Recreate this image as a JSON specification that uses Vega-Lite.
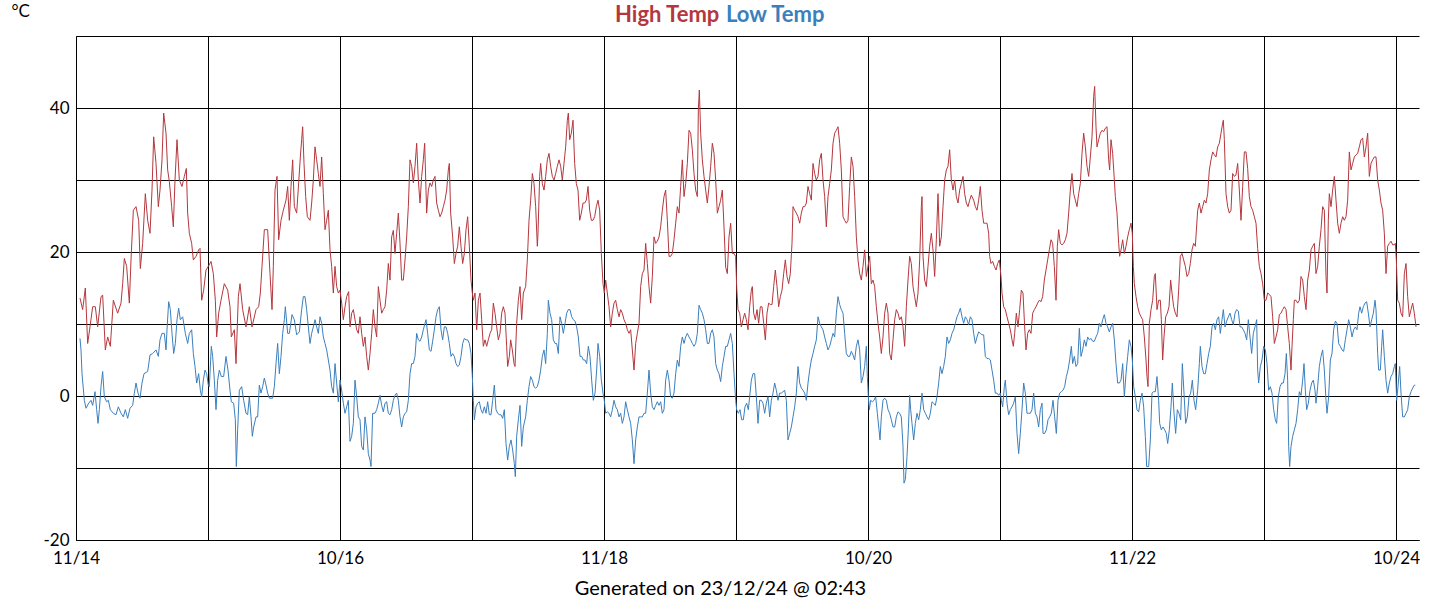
{
"$schema":"https://vega.github.io/schema/vega-lite/v6.json",
"width":1343,"height":504,
"autosize":"none",
"padding":{"left":76,"top":36,"right":21,"bottom":60},
"background":"white",
"config":{"view":{"stroke":null},"font":"Lato"},
"datasets":{
"high":[
{"t":12,"v":13.6},{"t":20,"v":12},{"t":28,"v":15},{"t":35,"v":7.3},{"t":42,"v":9.6},{"t":50,"v":12.4},{"t":58,"v":12.4},{"t":65,"v":9.6},{"t":75,"v":13.8},{"t":80,"v":14},{"t":88,"v":6.4},{"t":95,"v":8.2},{"t":103,"v":6.9},{"t":112,"v":13.3},{"t":125,"v":11.5},{"t":135,"v":12.9},{"t":140,"v":15.6},{"t":145,"v":19.1},{"t":152,"v":18},{"t":160,"v":12.9},{"t":165,"v":18.9},{"t":172,"v":25.8},{"t":180,"v":26.3},{"t":188,"v":24.4},{"t":193,"v":17.7},{"t":200,"v":21.2},{"t":208,"v":28.1},{"t":215,"v":24.4},{"t":222,"v":22.6},{"t":228,"v":28.6},{"t":233,"v":36},{"t":240,"v":32.3},{"t":247,"v":26.3},{"t":252,"v":28.6},{"t":258,"v":32.8},{"t":263,"v":39.3},{"t":270,"v":36.5},{"t":275,"v":31.4},{"t":280,"v":29.8},{"t":287,"v":26.3},{"t":292,"v":23.5},{"t":297,"v":30},{"t":303,"v":35.6},{"t":310,"v":30},{"t":318,"v":29.1},{"t":325,"v":30.5},{"t":331,"v":31.6},{"t":335,"v":25.4},{"t":340,"v":22.6},{"t":347,"v":21.2},{"t":352,"v":18.9},{"t":360,"v":19.4},{"t":368,"v":20.3},{"t":372,"v":20.5},{"t":377,"v":13.3},{"t":383,"v":14.7},{"t":390,"v":17.5},{"t":397,"v":18},{"t":405,"v":18.7},{"t":412,"v":17},{"t":418,"v":13.3},{"t":422,"v":8.2},{"t":428,"v":11.5},{"t":435,"v":13.3},{"t":445,"v":15.6},{"t":455,"v":14.7},{"t":462,"v":12.4},{"t":466,"v":8.2},{"t":475,"v":9.2},{"t":480,"v":4.5},{"t":487,"v":13.8},{"t":492,"v":15.6},{"t":500,"v":12},{"t":510,"v":9.6},{"t":520,"v":12.4},{"t":528,"v":9.6},{"t":540,"v":12},{"t":548,"v":12.4},{"t":553,"v":14.3},{"t":558,"v":18},{"t":565,"v":23.1},{"t":575,"v":23.1},{"t":582,"v":17},{"t":588,"v":12},{"t":592,"v":18},{"t":597,"v":28.6},{"t":603,"v":30.5},{"t":608,"v":21.7},{"t":615,"v":24.4},{"t":622,"v":25.8},{"t":630,"v":27.2},{"t":635,"v":29.1},{"t":640,"v":24.4},{"t":645,"v":29.1},{"t":650,"v":32.8},{"t":655,"v":26.3},{"t":662,"v":25.4},{"t":668,"v":29.6},{"t":673,"v":33.2},
{"t":677,"v":35.6},{"t":680,"v":37.4},{"t":684,"v":32.3},{"t":689,"v":27.7},{"t":694,"v":24.9},{"t":702,"v":24.4},{"t":707,"v":26.8},{"t":712,"v":30},{"t":717,"v":34.6},{"t":722,"v":32.8},{"t":727,"v":30.9},{"t":732,"v":29.1},{"t":737,"v":33.2},{"t":742,"v":28.1},{"t":747,"v":23.1},{"t":752,"v":24.4},{"t":757,"v":25.8},{"t":762,"v":20.3},{"t":767,"v":18},{"t":772,"v":14.3},{"t":777,"v":18},{"t":782,"v":15.2},{"t":787,"v":14.3},{"t":792,"v":14.7},{"t":797,"v":12.9},{"t":802,"v":10.6},{"t":807,"v":12.4},{"t":812,"v":13.8},{"t":818,"v":14.5},{"t":822,"v":9.6},{"t":827,"v":11.5},{"t":832,"v":12},{"t":837,"v":10.6},{"t":842,"v":9.2},{"t":847,"v":8.7},{"t":852,"v":11},{"t":857,"v":8.7},{"t":862,"v":6.9},{"t":867,"v":8.2},{"t":872,"v":5.5},{"t":877,"v":3.6},{"t":882,"v":5.9},{"t":887,"v":8.7},{"t":892,"v":12},{"t":897,"v":9.6},{"t":902,"v":8.2},{"t":907,"v":15.2},{"t":912,"v":13.3},{"t":917,"v":11.5},{"t":922,"v":12},{"t":927,"v":12.4},{"t":932,"v":14.7},{"t":937,"v":18.4},{"t":942,"v":16.1},{"t":947,"v":22.1},{"t":952,"v":23},{"t":957,"v":19.8},{"t":962,"v":22.6},{"t":967,"v":25.4},{"t":972,"v":21.2},{"t":977,"v":16.1},{"t":982,"v":16.1},{"t":987,"v":18.9},{"t":992,"v":22.1},{"t":997,"v":26.3},{"t":1002,"v":32.8},{"t":1007,"v":31.9},{"t":1012,"v":29.6},{"t":1017,"v":31.9},{"t":1022,"v":35.1},{"t":1027,"v":30},{"t":1032,"v":26.8},{"t":1037,"v":30.5},{"t":1042,"v":32.8},{"t":1046,"v":35.1},{"t":1050,"v":28.6},{"t":1052,"v":25.4},{"t":1057,"v":28.6},{"t":1062,"v":29.6},{"t":1067,"v":29.1},{"t":1072,"v":30},{"t":1077,"v":30.5},{"t":1082,"v":26.8},{"t":1087,"v":25.8},{"t":1092,"v":24.9},{"t":1097,"v":25.4},{"t":1102,"v":26.3},{"t":1107,"v":27.2},{"t":1112,"v":28.6},{"t":1117,"v":31.4},{"t":1120,"v":32.3},{"t":1124,"v":25.4},{"t":1130,"v":22.1},{"t":1135,"v":18.4},{"t":1140,"v":19.8},{"t":1145,"v":20.8},{"t":1150,"v":23.5},{"t":1155,"v":20.8},{"t":1160,"v":18.4},{"t":1165,"v":19.8},{"t":1170,"v":23.1},{"t":1175,"v":24.9},{"t":1180,"v":20.8},{"t":1185,"v":16.1},{"t":1189,"v":14.3},{"t":1192,"v":13.3},{"t":1197,"v":14.3},{"t":1202,"v":9.2},{"t":1207,"v":13.3},{"t":1212,"v":14.3},{"t":1217,"v":10.6},{"t":1222,"v":6.9},{"t":1227,"v":7.8},{"t":1232,"v":6.9},{"t":1237,"v":7.8},{"t":1242,"v":8.7},{"t":1247,"v":9.2},{"t":1252,"v":12.9},{"t":1257,"v":11.5},{"t":1262,"v":9.6},{"t":1267,"v":7.8},{"t":1272,"v":8.7},{"t":1277,"v":11.5},{"t":1282,"v":12.4},{"t":1287,"v":11.5},{"t":1292,"v":6.9},{"t":1295,"v":4.1},{"t":1300,"v":5.5},{"t":1304,"v":7.8},{"t":1309,"v":6.4},{"t":1314,"v":4.5},{"t":1317,"v":4.1},{"t":1322,"v":10.1},{"t":1327,"v":13.3},{"t":1332,"v":15.2},{"t":1337,"v":10.6},{"t":1342,"v":14.3},
{"t":1349,"v":15.2},{"t":1354,"v":18.9},{"t":1359,"v":24.4},{"t":1364,"v":27.2},{"t":1369,"v":30.9},{"t":1374,"v":29.5},{"t":1379,"v":26.3},{"t":1384,"v":20.8},{"t":1386,"v":22.6},{"t":1391,"v":30.5},{"t":1394,"v":32.3},{"t":1399,"v":29.5},{"t":1404,"v":28.6},{"t":1409,"v":30.5},{"t":1414,"v":32.8},{"t":1419,"v":33.7},{"t":1424,"v":31.9},{"t":1429,"v":30.5},{"t":1434,"v":30},{"t":1439,"v":30.9},{"t":1444,"v":31.9},{"t":1449,"v":32.8},{"t":1454,"v":31.9},{"t":1459,"v":30},{"t":1464,"v":32.3},{"t":1469,"v":34.6},{"t":1474,"v":38.3},{"t":1477,"v":39.3},{"t":1481,"v":35.6},{"t":1486,"v":36.5},{"t":1491,"v":38.3},{"t":1496,"v":32.3},{"t":1501,"v":29.5},{"t":1506,"v":28.6},{"t":1511,"v":24.4},{"t":1516,"v":25.4},{"t":1521,"v":26.8},{"t":1526,"v":26.8},{"t":1531,"v":27.2},{"t":1536,"v":29.1},{"t":1541,"v":25.8},{"t":1546,"v":24.4},{"t":1551,"v":24.4},{"t":1556,"v":24.9},{"t":1561,"v":26.3},{"t":1566,"v":27.2},{"t":1571,"v":25.8},{"t":1576,"v":19.8},{"t":1581,"v":15.6},{"t":1585,"v":14.3},{"t":1589,"v":16.1},{"t":1594,"v":14.3},{"t":1599,"v":12.4},{"t":1604,"v":9.6},{"t":1609,"v":11.5},{"t":1614,"v":12.9},{"t":1619,"v":13.3},{"t":1624,"v":12},{"t":1629,"v":11},{"t":1634,"v":12},{"t":1639,"v":11.5},{"t":1644,"v":10.6},{"t":1649,"v":10.1},{"t":1654,"v":9.2},{"t":1659,"v":8.7},{"t":1664,"v":9.2},{"t":1669,"v":6.4},{"t":1674,"v":3.6},{"t":1679,"v":7.3},{"t":1684,"v":8.7},{"t":1689,"v":10.1},{"t":1694,"v":15.2},{"t":1699,"v":17},{"t":1704,"v":17.5},{"t":1709,"v":21.2},{"t":1714,"v":18.4},{"t":1719,"v":15.2},{"t":1724,"v":12.9},{"t":1729,"v":16.6},{"t":1734,"v":22.1},{"t":1739,"v":21.2},{"t":1744,"v":21.5},{"t":1749,"v":22.1},{"t":1754,"v":23.5},{"t":1759,"v":25.8},{"t":1764,"v":27.7},{"t":1769,"v":28.6},{"t":1774,"v":24.4},{"t":1779,"v":19.4},{"t":1784,"v":19.4},{"t":1789,"v":19.8},{"t":1794,"v":21.7},{"t":1799,"v":24},{"t":1804,"v":26.3},{"t":1809,"v":25.4},{"t":1814,"v":29.1},{"t":1819,"v":32.8},{"t":1824,"v":27.7},{"t":1829,"v":29.5},{"t":1834,"v":32.3},{"t":1839,"v":36.9},{"t":1844,"v":36.5},{"t":1849,"v":34.2},{"t":1854,"v":30.9},{"t":1859,"v":28.6},{"t":1864,"v":27.7},{"t":1867,"v":39.7},{"t":1870,"v":42.5},{"t":1874,"v":36.5},{"t":1879,"v":32.8},{"t":1884,"v":30.5},{"t":1889,"v":28.6},{"t":1894,"v":26.8},{"t":1899,"v":29.1},{"t":1904,"v":31.9},{"t":1909,"v":35.1},{"t":1914,"v":33.7},{"t":1919,"v":30},{"t":1924,"v":25.4},{"t":1929,"v":26.3},{"t":1934,"v":27.2},{"t":1939,"v":28.6},{"t":1944,"v":23.5},{"t":1949,"v":17.9},{"t":1954,"v":17},{"t":1959,"v":22.1},{"t":1964,"v":24},{"t":1969,"v":19.8},{"t":1974,"v":19.8},{"t":1979,"v":19.4},{"t":1982,"v":15.2},{"t":1986,"v":12},{"t":1991,"v":11.5},{"t":1996,"v":9.6},{"t":2001,"v":10.6},{"t":2006,"v":11.5},{"t":2011,"v":10.6},{"t":2016,"v":9.2},
{"t":2021,"v":12.4},{"t":2026,"v":14.7},{"t":2029,"v":15.2},{"t":2033,"v":11.5},{"t":2038,"v":10.6},{"t":2043,"v":12},{"t":2048,"v":10.1},{"t":2053,"v":12.4},{"t":2058,"v":12.4},{"t":2063,"v":10.1},{"t":2068,"v":7.8},{"t":2073,"v":11.5},{"t":2078,"v":12.9},{"t":2083,"v":12.7},{"t":2088,"v":12.7},{"t":2093,"v":15.2},{"t":2098,"v":17.5},{"t":2103,"v":15.2},{"t":2108,"v":12.4},{"t":2113,"v":13.8},{"t":2118,"v":14.7},{"t":2123,"v":17},{"t":2128,"v":18.9},{"t":2133,"v":16.6},{"t":2138,"v":15.6},{"t":2143,"v":17},{"t":2148,"v":21.2},{"t":2151,"v":26.3},{"t":2156,"v":25.8},{"t":2161,"v":25.4},{"t":2166,"v":24.9},{"t":2171,"v":24},{"t":2176,"v":25.4},{"t":2181,"v":26.3},{"t":2186,"v":26.3},{"t":2191,"v":26.8},{"t":2196,"v":29.1},{"t":2201,"v":28.1},{"t":2206,"v":27.2},{"t":2211,"v":32.3},{"t":2216,"v":30.9},{"t":2221,"v":30},{"t":2226,"v":30.5},{"t":2231,"v":32.8},{"t":2236,"v":33.7},{"t":2241,"v":30},{"t":2246,"v":27.7},{"t":2251,"v":23.5},{"t":2256,"v":27.7},{"t":2261,"v":29.5},{"t":2266,"v":31.4},{"t":2271,"v":35.1},{"t":2276,"v":36.5},{"t":2281,"v":36.9},{"t":2286,"v":37.4},{"t":2291,"v":35.1},{"t":2296,"v":31.4},{"t":2301,"v":24.9},{"t":2306,"v":24.4},{"t":2311,"v":24},{"t":2316,"v":24.4},{"t":2321,"v":29.1},{"t":2326,"v":33.2},{"t":2331,"v":31.9},{"t":2336,"v":27.7},{"t":2341,"v":22.1},{"t":2346,"v":18.9},{"t":2351,"v":17},{"t":2356,"v":16.1},{"t":2361,"v":18},{"t":2366,"v":20.3},{"t":2371,"v":16.6},{"t":2376,"v":18},{"t":2381,"v":19.4},{"t":2386,"v":15.6},{"t":2391,"v":16.1},{"t":2396,"v":15.2},{"t":2401,"v":12.4},{"t":2406,"v":10.1},{"t":2411,"v":8.2},{"t":2416,"v":5.9},{"t":2421,"v":8.2},{"t":2426,"v":11.5},{"t":2431,"v":12.9},{"t":2436,"v":11.5},{"t":2441,"v":5.9},{"t":2446,"v":5},{"t":2451,"v":7.8},{"t":2456,"v":10.6},{"t":2461,"v":12},{"t":2466,"v":11.5},{"t":2471,"v":10.6},{"t":2476,"v":11},{"t":2481,"v":9.6},{"t":2486,"v":6.9},{"t":2491,"v":12.4},{"t":2496,"v":16.1},{"t":2501,"v":19.4},{"t":2506,"v":18.4},{"t":2511,"v":15.2},{"t":2516,"v":13.8},{"t":2521,"v":12.4},{"t":2526,"v":14.3},{"t":2531,"v":18.9},{"t":2536,"v":26.3},{"t":2538,"v":27.7},{"t":2541,"v":19.4},{"t":2546,"v":16.1},{"t":2551,"v":15.2},{"t":2556,"v":18},{"t":2561,"v":20.8},{"t":2566,"v":22.6},{"t":2571,"v":20.3},{"t":2576,"v":16.6},{"t":2581,"v":21.7},{"t":2586,"v":28.1},{"t":2591,"v":20.8},{"t":2596,"v":22.1},{"t":2601,"v":26.3},{"t":2606,"v":30},{"t":2611,"v":31.4},{"t":2616,"v":31.9},{"t":2621,"v":34.2},{"t":2626,"v":30},{"t":2631,"v":28.6},{"t":2636,"v":30},{"t":2641,"v":27.7},{"t":2646,"v":26.8},{"t":2651,"v":28.6},{"t":2656,"v":29.5},{"t":2661,"v":30.5},{"t":2666,"v":28.1},{"t":2671,"v":26.8},{"t":2676,"v":26.3},{"t":2681,"v":27.2},{"t":2686,"v":27.9},
{"t":2693,"v":27.2},{"t":2698,"v":26.3},{"t":2703,"v":25.8},{"t":2708,"v":27.2},{"t":2713,"v":29.1},{"t":2718,"v":25.8},{"t":2723,"v":24},{"t":2728,"v":24},{"t":2733,"v":24},{"t":2738,"v":22.6},{"t":2741,"v":19.4},{"t":2745,"v":18.4},{"t":2750,"v":18.7},{"t":2755,"v":18},{"t":2760,"v":17.5},{"t":2765,"v":18.4},{"t":2770,"v":18.9},{"t":2775,"v":16.6},{"t":2778,"v":14.3},{"t":2783,"v":12.4},{"t":2788,"v":12},{"t":2793,"v":11},{"t":2798,"v":10.1},{"t":2803,"v":9.2},{"t":2808,"v":7.8},{"t":2812,"v":6.9},{"t":2816,"v":8.7},{"t":2821,"v":11.5},{"t":2826,"v":9.6},{"t":2831,"v":12},{"t":2836,"v":14.7},{"t":2841,"v":14.3},{"t":2846,"v":9.6},{"t":2850,"v":6.4},{"t":2855,"v":8.7},{"t":2860,"v":9.2},{"t":2865,"v":8.7},{"t":2870,"v":11.5},{"t":2875,"v":12},{"t":2880,"v":12.4},{"t":2885,"v":12.9},{"t":2890,"v":13.3},{"t":2895,"v":13.1},{"t":2900,"v":13.8},{"t":2905,"v":16.1},{"t":2910,"v":17.5},{"t":2915,"v":18.9},{"t":2920,"v":20.3},{"t":2925,"v":21.7},{"t":2930,"v":21.2},{"t":2935,"v":18},{"t":2940,"v":13.3},{"t":2944,"v":20.8},{"t":2948,"v":23.1},{"t":2953,"v":21.2},{"t":2958,"v":21},{"t":2963,"v":21.2},{"t":2968,"v":21.7},{"t":2973,"v":22.6},{"t":2978,"v":25.4},{"t":2983,"v":28.6},{"t":2988,"v":30.9},{"t":2993,"v":28.1},{"t":2998,"v":27.2},{"t":3003,"v":26.3},{"t":3008,"v":28.1},{"t":3013,"v":29.5},{"t":3018,"v":33.7},{"t":3023,"v":36.5},{"t":3028,"v":34.6},{"t":3033,"v":31.9},{"t":3038,"v":30.5},{"t":3043,"v":33.2},{"t":3048,"v":36},{"t":3053,"v":41.6},{"t":3056,"v":43},{"t":3060,"v":37.4},{"t":3063,"v":34.6},{"t":3068,"v":35.6},{"t":3073,"v":36.5},{"t":3078,"v":36.9},{"t":3083,"v":36.7},{"t":3088,"v":37.2},{"t":3093,"v":37.4},{"t":3098,"v":32.8},{"t":3101,"v":31.4},{"t":3105,"v":35.6},{"t":3110,"v":33.7},{"t":3115,"v":30},{"t":3118,"v":27.7},{"t":3123,"v":25.4},{"t":3128,"v":21.2},{"t":3131,"v":19.4},{"t":3135,"v":20.3},{"t":3140,"v":21.7},{"t":3145,"v":19.8},{"t":3150,"v":20.8},{"t":3155,"v":22.1},{"t":3160,"v":23.1},{"t":3165,"v":24},{"t":3169,"v":22.6},{"t":3172,"v":18},{"t":3175,"v":15.6},{"t":3180,"v":13.8},{"t":3185,"v":12.4},{"t":3190,"v":11.5},{"t":3195,"v":11},{"t":3200,"v":10.6},{"t":3205,"v":8.2},{"t":3210,"v":5},{"t":3213,"v":2.7},{"t":3216,"v":1.3},{"t":3220,"v":10.1},{"t":3225,"v":12},{"t":3230,"v":13.3},{"t":3235,"v":16.6},{"t":3238,"v":17},{"t":3243,"v":12},{"t":3248,"v":13.3},{"t":3253,"v":13.3},{"t":3256,"v":10.6},{"t":3260,"v":5},{"t":3264,"v":8.2},{"t":3269,"v":11},{"t":3274,"v":11.5},{"t":3279,"v":12.4},{"t":3284,"v":16.1},{"t":3288,"v":14.3},{"t":3293,"v":12.4},{"t":3298,"v":11.5},{"t":3303,"v":11},{"t":3308,"v":14.7},{"t":3313,"v":19.4},{"t":3318,"v":19.8},{"t":3323,"v":18.9},{"t":3328,"v":18},{"t":3333,"v":16.6},{"t":3338,"v":17},{"t":3343,"v":18.4},{"t":3348,"v":20.3},{"t":3353,"v":21.2},{"t":3358,"v":20.8},
{"t":3365,"v":25.8},{"t":3370,"v":26.8},{"t":3375,"v":25.4},{"t":3380,"v":26.3},{"t":3385,"v":27.2},{"t":3390,"v":26.8},{"t":3395,"v":28.1},{"t":3400,"v":31.4},{"t":3405,"v":32.8},{"t":3410,"v":33.9},{"t":3415,"v":33.5},{"t":3420,"v":33.2},{"t":3425,"v":34.6},{"t":3430,"v":35.1},{"t":3435,"v":36.5},{"t":3440,"v":37.9},{"t":3442,"v":38.3},{"t":3445,"v":35.6},{"t":3450,"v":28.1},{"t":3455,"v":26.3},{"t":3460,"v":25.4},{"t":3465,"v":25.8},{"t":3470,"v":30.9},{"t":3475,"v":30.5},{"t":3480,"v":30.7},{"t":3485,"v":32.3},{"t":3490,"v":28.6},{"t":3495,"v":24.4},{"t":3500,"v":29.1},{"t":3505,"v":33.9},{"t":3510,"v":33.9},{"t":3515,"v":31.6},{"t":3520,"v":27.7},{"t":3525,"v":26.3},{"t":3530,"v":25.8},{"t":3535,"v":24.9},{"t":3540,"v":24},{"t":3545,"v":20.5},{"t":3550,"v":18},{"t":3555,"v":17},{"t":3560,"v":15.6},{"t":3565,"v":13.3},{"t":3570,"v":13.3},{"t":3575,"v":14.3},{"t":3580,"v":14.1},{"t":3585,"v":13.8},{"t":3590,"v":11},{"t":3595,"v":7.3},{"t":3600,"v":8.2},{"t":3605,"v":9.2},{"t":3610,"v":11.3},{"t":3615,"v":11.5},{"t":3620,"v":12},{"t":3625,"v":12.4},{"t":3630,"v":12},{"t":3635,"v":9.6},{"t":3640,"v":7.3},{"t":3645,"v":3.6},{"t":3648,"v":6.9},{"t":3652,"v":10.6},{"t":3655,"v":13.3},{"t":3660,"v":13.3},{"t":3665,"v":12.9},{"t":3670,"v":13.3},{"t":3675,"v":16.6},{"t":3680,"v":16.1},{"t":3685,"v":13.8},{"t":3690,"v":12},{"t":3695,"v":16.1},{"t":3700,"v":17.5},{"t":3705,"v":20.3},{"t":3710,"v":20.8},{"t":3715,"v":21.2},{"t":3720,"v":17},{"t":3725,"v":18},{"t":3730,"v":20.8},{"t":3735,"v":23.1},{"t":3740,"v":26.3},{"t":3745,"v":25.8},{"t":3750,"v":16.6},{"t":3753,"v":14.3},{"t":3757,"v":24.4},{"t":3760,"v":28.1},{"t":3765,"v":26.3},{"t":3770,"v":28.6},{"t":3775,"v":30.5},{"t":3780,"v":27.2},{"t":3785,"v":24},{"t":3790,"v":22.6},{"t":3795,"v":24},{"t":3800,"v":24.9},{"t":3805,"v":24.4},{"t":3810,"v":24.9},{"t":3815,"v":27.2},{"t":3820,"v":33.9},{"t":3825,"v":31.4},{"t":3830,"v":32.3},{"t":3835,"v":33.2},{"t":3840,"v":33.5},{"t":3845,"v":33.7},{"t":3850,"v":34.6},{"t":3855,"v":35.6},{"t":3860,"v":35.8},{"t":3865,"v":33.2},{"t":3870,"v":34.6},{"t":3875,"v":36.5},{"t":3880,"v":30.5},{"t":3885,"v":32.3},{"t":3890,"v":32.8},{"t":3895,"v":33.2},{"t":3900,"v":33.2},{"t":3905,"v":30},{"t":3910,"v":28.6},{"t":3915,"v":26.8},{"t":3920,"v":25.8},{"t":3925,"v":22.6},{"t":3930,"v":17},{"t":3935,"v":20.8},{"t":3940,"v":21.2},{"t":3945,"v":21.5},{"t":3950,"v":21},{"t":3955,"v":21},{"t":3958,"v":21.2},{"t":3961,"v":18.9},{"t":3965,"v":13.3},{"t":3970,"v":12.9},{"t":3975,"v":11.5},{"t":3980,"v":11},{"t":3985,"v":17},{"t":3990,"v":18.4},{"t":3995,"v":13.8},{"t":4000,"v":11},{"t":4005,"v":12},{"t":4010,"v":12.9},{"t":4015,"v":11.5},{"t":4020,"v":9.6}
],
"low":[
{"t":12,"v":8},{"t":15,"v":6.4},{"t":18,"v":3.1},{"t":25,"v":-0.6},{"t":30,"v":-1.7},{"t":38,"v":-1},{"t":45,"v":-0.6},{"t":50,"v":-1.3},{"t":57,"v":0.6},{"t":62,"v":-1.9},{"t":66,"v":-3.8},{"t":70,"v":-1.9},{"t":75,"v":1.3},{"t":80,"v":3.4},{"t":85,"v":-0.1},{"t":92,"v":-0.8},{"t":97,"v":-0.6},{"t":103,"v":-1.9},{"t":112,"v":-2.4},{"t":120,"v":-2.6},{"t":127,"v":-1.5},{"t":135,"v":-2.4},{"t":142,"v":-2.9},{"t":148,"v":-1.9},{"t":155,"v":-3.1},{"t":162,"v":-1.7},{"t":170,"v":-1.3},{"t":175,"v":0.4},{"t":180,"v":1.8},{"t":186,"v":0.4},{"t":192,"v":-0.3},{"t":198,"v":1.8},{"t":204,"v":3.1},{"t":215,"v":3.4},{"t":222,"v":5.7},{"t":230,"v":5.9},{"t":240,"v":6.4},{"t":247,"v":5.5},{"t":252,"v":7.8},{"t":258,"v":8.7},{"t":265,"v":8.7},{"t":270,"v":6.4},{"t":273,"v":9.2},{"t":278,"v":13.1},{"t":283,"v":12},{"t":288,"v":8.7},{"t":293,"v":5.9},{"t":298,"v":7.3},{"t":303,"v":10.6},{"t":308,"v":12.2},{"t":313,"v":10.6},{"t":320,"v":11},{"t":328,"v":8.7},{"t":335,"v":7.3},{"t":340,"v":8.7},{"t":347,"v":9.2},{"t":352,"v":5.9},{"t":357,"v":4.1},{"t":362,"v":1.8},{"t":368,"v":3.1},{"t":373,"v":0.8},{"t":377,"v":-0.1},{"t":382,"v":2.2},{"t":387,"v":3.6},{"t":392,"v":3.1},{"t":397,"v":1.5},{"t":400,"v":1.3},{"t":406,"v":6.9},{"t":410,"v":5.5},{"t":415,"v":2.2},{"t":420,"v":-1.9},{"t":425,"v":2.2},{"t":430,"v":3.6},{"t":436,"v":2.7},{"t":443,"v":2.7},{"t":450,"v":5.5},{"t":456,"v":3.6},{"t":462,"v":0.8},{"t":466,"v":-0.8},{"t":473,"v":-1},{"t":478,"v":-3.3},{"t":481,"v":-9.8},{"t":485,"v":-4.7},{"t":490,"v":0.8},{"t":497,"v":1.3},{"t":503,"v":-0.6},{"t":510,"v":-2.4},{"t":515,"v":-2.6},{"t":520,"v":-0.1},{"t":525,"v":-2.9},{"t":529,"v":-5.6},{"t":533,"v":-4.3},{"t":540,"v":-2.9},{"t":545,"v":-2.9},{"t":550,"v":1.5},{"t":555,"v":0.4},{"t":560,"v":1.3},{"t":565,"v":2.5},{"t":570,"v":1.5},{"t":575,"v":0.4},{"t":580,"v":-0.3},{"t":590,"v":-0.3},{"t":595,"v":1.3},{"t":600,"v":4.5},{"t":605,"v":7.3},{"t":610,"v":3.1},{"t":615,"v":5.5},{"t":620,"v":8.7},{"t":625,"v":10.6},{"t":628,"v":12.4},{"t":635,"v":8.7},{"t":640,"v":8.7},{"t":648,"v":11.3},{"t":655,"v":10.6},{"t":662,"v":8.5},{"t":670,"v":8.9},
{"t":677,"v":12},{"t":682,"v":13.8},{"t":687,"v":13.8},{"t":692,"v":12},{"t":697,"v":9.6},{"t":702,"v":7.3},{"t":707,"v":8.7},{"t":712,"v":9.6},{"t":717,"v":10.6},{"t":722,"v":9.6},{"t":727,"v":8.7},{"t":732,"v":11},{"t":737,"v":10.1},{"t":742,"v":8.2},{"t":747,"v":7.3},{"t":752,"v":6.4},{"t":757,"v":5},{"t":762,"v":3.6},{"t":767,"v":1.3},{"t":772,"v":0.4},{"t":777,"v":4.5},{"t":782,"v":1.8},{"t":787,"v":-0.8},{"t":792,"v":2.2},{"t":797,"v":0.8},{"t":802,"v":-1},{"t":807,"v":-2.4},{"t":812,"v":-1.5},{"t":817,"v":-0.6},{"t":822,"v":-6.3},{"t":827,"v":-5.6},{"t":832,"v":-3.8},{"t":837,"v":2.2},{"t":842,"v":-0.1},{"t":847,"v":-2.9},{"t":852,"v":-3.3},{"t":857,"v":-7},{"t":862,"v":-7.5},{"t":867,"v":-2.9},{"t":872,"v":-4.7},{"t":877,"v":-8},{"t":882,"v":-8.9},{"t":885,"v":-9.8},{"t":890,"v":-2.4},{"t":897,"v":-2.4},{"t":902,"v":-1.9},{"t":907,"v":-1},{"t":912,"v":0.1},{"t":917,"v":-1.3},{"t":922,"v":-2.2},{"t":927,"v":-1},{"t":932,"v":-0.8},{"t":937,"v":-2.4},{"t":942,"v":-2.6},{"t":947,"v":-1.9},{"t":952,"v":-0.6},{"t":957,"v":0.1},{"t":962,"v":0.4},{"t":967,"v":-0.6},{"t":972,"v":-2.9},{"t":977,"v":-4.3},{"t":982,"v":-2.9},{"t":987,"v":-2.4},{"t":992,"v":-2.2},{"t":997,"v":-0.6},{"t":1002,"v":3.1},{"t":1007,"v":4.5},{"t":1012,"v":4.5},{"t":1017,"v":5.5},{"t":1022,"v":8.7},{"t":1027,"v":7.8},{"t":1032,"v":7.6},{"t":1037,"v":8.2},{"t":1042,"v":9.2},{"t":1047,"v":10.1},{"t":1050,"v":10.6},{"t":1055,"v":8.7},{"t":1060,"v":6.4},{"t":1065,"v":6.2},{"t":1070,"v":7.6},{"t":1075,"v":9.2},{"t":1080,"v":11},{"t":1085,"v":12},{"t":1090,"v":12.4},{"t":1095,"v":9.2},{"t":1100,"v":7.8},{"t":1105,"v":9.6},{"t":1110,"v":9.6},{"t":1115,"v":8.7},{"t":1120,"v":7.3},{"t":1125,"v":5.5},{"t":1130,"v":5.9},{"t":1135,"v":5.5},{"t":1140,"v":4.5},{"t":1145,"v":4.1},{"t":1150,"v":4.3},{"t":1155,"v":5.5},{"t":1160,"v":7.3},{"t":1165,"v":8},{"t":1170,"v":7.8},{"t":1175,"v":7.8},{"t":1180,"v":7.3},{"t":1185,"v":5.9},{"t":1189,"v":2.7},{"t":1192,"v":-0.6},{"t":1195,"v":-3.3},{"t":1200,"v":-1.5},{"t":1205,"v":-1},{"t":1210,"v":-0.8},{"t":1215,"v":-1.9},{"t":1220,"v":-2.4},{"t":1225,"v":-1.5},{"t":1230,"v":-2.4},{"t":1235,"v":-0.8},{"t":1240,"v":-2.6},{"t":1245,"v":-2.6},{"t":1250,"v":-0.6},{"t":1255,"v":1.5},{"t":1260,"v":-1.9},{"t":1265,"v":-2.4},{"t":1270,"v":-2.6},{"t":1275,"v":-2.6},{"t":1280,"v":-3.1},{"t":1285,"v":-1.9},{"t":1290,"v":-6.6},{"t":1295,"v":-8.9},{"t":1300,"v":-7},{"t":1305,"v":-6.1},{"t":1310,"v":-7.5},{"t":1315,"v":-9.4},{"t":1318,"v":-11.2},{"t":1322,"v":-5.6},{"t":1327,"v":-3.3},{"t":1332,"v":-1.3},{"t":1337,"v":-7},{"t":1342,"v":-4.3},
{"t":1349,"v":-2.9},{"t":1354,"v":-0.6},{"t":1359,"v":1.3},{"t":1364,"v":2.7},{"t":1369,"v":2.2},{"t":1374,"v":1.3},{"t":1379,"v":1.1},{"t":1384,"v":1.3},{"t":1389,"v":2.2},{"t":1394,"v":3.6},{"t":1399,"v":5.5},{"t":1404,"v":6.4},{"t":1409,"v":4.5},{"t":1414,"v":8.7},{"t":1417,"v":13.3},{"t":1422,"v":11.5},{"t":1427,"v":10.6},{"t":1432,"v":7.8},{"t":1437,"v":7.3},{"t":1442,"v":7.3},{"t":1447,"v":5.9},{"t":1452,"v":11},{"t":1457,"v":10.1},{"t":1462,"v":8.7},{"t":1467,"v":10.1},{"t":1472,"v":11.5},{"t":1477,"v":12},{"t":1482,"v":12},{"t":1487,"v":11},{"t":1492,"v":10.6},{"t":1497,"v":10.4},{"t":1502,"v":9.6},{"t":1507,"v":8.2},{"t":1512,"v":5.5},{"t":1517,"v":5.5},{"t":1522,"v":5},{"t":1527,"v":5},{"t":1532,"v":4.5},{"t":1537,"v":6.9},{"t":1542,"v":5.5},{"t":1547,"v":2.2},{"t":1552,"v":-0.6},{"t":1557,"v":0.4},{"t":1562,"v":3.6},{"t":1566,"v":7.3},{"t":1571,"v":5.5},{"t":1576,"v":2.2},{"t":1581,"v":0.4},{"t":1585,"v":-0.6},{"t":1589,"v":-2.4},{"t":1594,"v":-2.2},{"t":1599,"v":-2.4},{"t":1604,"v":-2.9},{"t":1609,"v":-1.9},{"t":1614,"v":-0.6},{"t":1619,"v":-1.5},{"t":1624,"v":-1.9},{"t":1629,"v":-2.9},{"t":1634,"v":-2.4},{"t":1639,"v":-3.8},{"t":1644,"v":-2.9},{"t":1649,"v":-0.8},{"t":1654,"v":-1.9},{"t":1659,"v":-2.9},{"t":1664,"v":-3.8},{"t":1669,"v":-6.1},{"t":1674,"v":-9.4},{"t":1679,"v":-6.1},{"t":1684,"v":-4.3},{"t":1689,"v":-2.9},{"t":1694,"v":-2.9},{"t":1699,"v":-2.9},{"t":1704,"v":-2.4},{"t":1709,"v":-2.4},{"t":1714,"v":0.4},{"t":1719,"v":3.6},{"t":1724,"v":0.4},{"t":1729,"v":-1.5},{"t":1734,"v":-1.9},{"t":1739,"v":-1.3},{"t":1744,"v":-0.8},{"t":1749,"v":-1.3},{"t":1754,"v":-0.8},{"t":1759,"v":-2.4},{"t":1764,"v":-1.9},{"t":1769,"v":2.2},{"t":1774,"v":3.6},{"t":1779,"v":2.2},{"t":1784,"v":-0.1},{"t":1789,"v":-0.3},{"t":1794,"v":0.4},{"t":1799,"v":3.1},{"t":1804,"v":5},{"t":1809,"v":4.1},{"t":1814,"v":6.9},{"t":1819,"v":8.2},{"t":1824,"v":7.3},{"t":1829,"v":8.2},{"t":1834,"v":8.7},{"t":1839,"v":8.2},{"t":1844,"v":7.8},{"t":1849,"v":7.3},{"t":1854,"v":6.9},{"t":1859,"v":7.3},{"t":1864,"v":8.7},{"t":1869,"v":12.6},{"t":1874,"v":12},{"t":1879,"v":11.5},{"t":1884,"v":10.6},{"t":1889,"v":9.2},{"t":1894,"v":7.3},{"t":1899,"v":7.3},{"t":1904,"v":8.7},{"t":1909,"v":9.2},{"t":1914,"v":8.2},{"t":1919,"v":4.5},{"t":1924,"v":3.6},{"t":1929,"v":3.1},{"t":1934,"v":2},{"t":1939,"v":4.1},{"t":1944,"v":5.5},{"t":1949,"v":6.9},{"t":1954,"v":6.9},{"t":1959,"v":7.8},{"t":1964,"v":8.7},{"t":1969,"v":7.3},{"t":1974,"v":3.1},{"t":1979,"v":-0.6},{"t":1982,"v":-1.9},{"t":1987,"v":-2.4},{"t":1992,"v":-1.9},{"t":1997,"v":-3.3},{"t":2002,"v":-3.3},{"t":2007,"v":-1.5},{"t":2012,"v":-1},{"t":2017,"v":-1.9},
{"t":2021,"v":-0.1},{"t":2026,"v":2.2},{"t":2031,"v":3.1},{"t":2036,"v":3.1},{"t":2041,"v":-0.1},{"t":2046,"v":-3.8},{"t":2051,"v":-0.6},{"t":2056,"v":-0.6},{"t":2061,"v":-1},{"t":2066,"v":-2.4},{"t":2071,"v":-1},{"t":2076,"v":-0.1},{"t":2081,"v":-2.9},{"t":2086,"v":-0.6},{"t":2091,"v":0.4},{"t":2096,"v":1.8},{"t":2101,"v":0.8},{"t":2106,"v":-0.6},{"t":2111,"v":0.4},{"t":2116,"v":0.4},{"t":2121,"v":0.6},{"t":2126,"v":0.8},{"t":2131,"v":-0.6},{"t":2136,"v":-6.1},{"t":2141,"v":-5.2},{"t":2146,"v":-4.3},{"t":2151,"v":-2.9},{"t":2156,"v":-1.5},{"t":2161,"v":0.4},{"t":2166,"v":4.1},{"t":2171,"v":1.8},{"t":2176,"v":1.1},{"t":2181,"v":0.8},{"t":2186,"v":0.4},{"t":2191,"v":-0.6},{"t":2196,"v":1.8},{"t":2201,"v":3.6},{"t":2206,"v":5},{"t":2211,"v":5.9},{"t":2216,"v":6.9},{"t":2221,"v":7.8},{"t":2226,"v":11},{"t":2231,"v":10.1},{"t":2236,"v":9.6},{"t":2241,"v":9.2},{"t":2246,"v":8.2},{"t":2251,"v":7.3},{"t":2256,"v":6.4},{"t":2261,"v":6.9},{"t":2266,"v":7.8},{"t":2271,"v":8.7},{"t":2276,"v":8.2},{"t":2281,"v":11.5},{"t":2286,"v":13.8},{"t":2291,"v":12.7},{"t":2296,"v":12},{"t":2301,"v":11.5},{"t":2306,"v":8.7},{"t":2311,"v":5.9},{"t":2316,"v":5.5},{"t":2321,"v":5.5},{"t":2326,"v":6.2},{"t":2331,"v":5.7},{"t":2336,"v":5},{"t":2341,"v":6.9},{"t":2346,"v":7.8},{"t":2351,"v":6.4},{"t":2356,"v":1.8},{"t":2361,"v":2.7},{"t":2366,"v":4.1},{"t":2371,"v":6.9},{"t":2374,"v":2.7},{"t":2377,"v":-0.1},{"t":2380,"v":-1.9},{"t":2384,"v":-0.6},{"t":2389,"v":-0.8},{"t":2394,"v":-0.6},{"t":2399,"v":-0.1},{"t":2404,"v":-2.4},{"t":2409,"v":-4.7},{"t":2412,"v":-6.1},{"t":2416,"v":-2.9},{"t":2421,"v":-0.6},{"t":2426,"v":-0.3},{"t":2431,"v":-0.6},{"t":2436,"v":-1.9},{"t":2441,"v":-2.4},{"t":2446,"v":-3.3},{"t":2451,"v":-4.3},{"t":2456,"v":-4.3},{"t":2461,"v":-2.9},{"t":2466,"v":-2.2},{"t":2471,"v":-2.4},{"t":2476,"v":-2.9},{"t":2481,"v":-7},{"t":2484,"v":-12.1},{"t":2488,"v":-11.6},{"t":2493,"v":-8.4},{"t":2497,"v":-4.7},{"t":2501,"v":0.1},{"t":2504,"v":-1.9},{"t":2508,"v":-3.8},{"t":2513,"v":-6.1},{"t":2518,"v":-3.8},{"t":2523,"v":-2.4},{"t":2528,"v":-3.3},{"t":2533,"v":-1.9},{"t":2538,"v":0.4},{"t":2543,"v":-1.9},{"t":2548,"v":-2.4},{"t":2553,"v":-2.9},{"t":2558,"v":-3.3},{"t":2563,"v":-2.4},{"t":2568,"v":-0.8},{"t":2573,"v":-1},{"t":2578,"v":-1.3},{"t":2583,"v":-0.1},{"t":2588,"v":1.8},{"t":2593,"v":4.1},{"t":2598,"v":3.1},{"t":2603,"v":4.1},{"t":2608,"v":5.5},{"t":2613,"v":8.2},{"t":2618,"v":7.3},{"t":2623,"v":7.8},{"t":2628,"v":8.7},{"t":2633,"v":9.2},{"t":2638,"v":10.1},{"t":2643,"v":11},{"t":2648,"v":11.5},{"t":2653,"v":12.2},{"t":2658,"v":11},{"t":2663,"v":10.1},{"t":2668,"v":11},{"t":2673,"v":10.6},{"t":2678,"v":9.9},{"t":2683,"v":11},{"t":2688,"v":10.6},
{"t":2693,"v":8.7},{"t":2698,"v":7.3},{"t":2703,"v":8.2},{"t":2708,"v":8.9},{"t":2713,"v":8.7},{"t":2718,"v":8.5},{"t":2723,"v":8.5},{"t":2728,"v":5.5},{"t":2733,"v":5.2},{"t":2738,"v":5.2},{"t":2743,"v":5},{"t":2748,"v":3.6},{"t":2753,"v":2.2},{"t":2758,"v":0.4},{"t":2763,"v":0.4},{"t":2768,"v":0.1},{"t":2773,"v":0.4},{"t":2776,"v":-0.6},{"t":2780,"v":-1.5},{"t":2785,"v":1.3},{"t":2788,"v":2.2},{"t":2793,"v":-1},{"t":2798,"v":-2.6},{"t":2803,"v":-1.9},{"t":2808,"v":-1.5},{"t":2813,"v":-1},{"t":2818,"v":-0.1},{"t":2823,"v":-5.2},{"t":2828,"v":-8},{"t":2833,"v":-5.2},{"t":2838,"v":-1.9},{"t":2843,"v":1.8},{"t":2848,"v":0.4},{"t":2853,"v":-2.4},{"t":2858,"v":-2.4},{"t":2863,"v":-2.4},{"t":2868,"v":-1.9},{"t":2873,"v":0.4},{"t":2878,"v":-2.4},{"t":2883,"v":-2.9},{"t":2888,"v":-4.3},{"t":2893,"v":-1.9},{"t":2898,"v":-1},{"t":2901,"v":-5.2},{"t":2906,"v":-5.2},{"t":2911,"v":-4.7},{"t":2916,"v":-3.3},{"t":2921,"v":-2.9},{"t":2926,"v":-2.4},{"t":2931,"v":-0.6},{"t":2936,"v":-2.9},{"t":2941,"v":-5.2},{"t":2946,"v":-0.6},{"t":2951,"v":0.4},{"t":2956,"v":0.6},{"t":2961,"v":0.8},{"t":2966,"v":1.3},{"t":2971,"v":2.7},{"t":2976,"v":3.6},{"t":2981,"v":5},{"t":2986,"v":6.9},{"t":2990,"v":4.5},{"t":2995,"v":5.5},{"t":3000,"v":4.1},{"t":3005,"v":4.5},{"t":3010,"v":9.4},{"t":3015,"v":5.5},{"t":3020,"v":6.4},{"t":3025,"v":7.8},{"t":3030,"v":6.9},{"t":3035,"v":8.2},{"t":3040,"v":7.8},{"t":3045,"v":8},{"t":3050,"v":7.6},{"t":3055,"v":7.6},{"t":3060,"v":8.2},{"t":3065,"v":8.7},{"t":3070,"v":10.1},{"t":3075,"v":9.6},{"t":3080,"v":10.6},{"t":3085,"v":11.3},{"t":3090,"v":10.1},{"t":3095,"v":9.6},{"t":3100,"v":8.9},{"t":3105,"v":9.6},{"t":3110,"v":10.1},{"t":3115,"v":7.8},{"t":3120,"v":4.5},{"t":3125,"v":1.8},{"t":3130,"v":1.8},{"t":3135,"v":2.2},{"t":3140,"v":4.5},{"t":3145,"v":-0.1},{"t":3150,"v":3.1},{"t":3155,"v":5.5},{"t":3160,"v":7.8},{"t":3165,"v":6.9},{"t":3169,"v":5},{"t":3173,"v":1.3},{"t":3178,"v":-0.1},{"t":3183,"v":-1.9},{"t":3188,"v":-2.2},{"t":3193,"v":-0.6},{"t":3198,"v":0.4},{"t":3203,"v":-1.5},{"t":3208,"v":-5.6},{"t":3212,"v":-9.8},{"t":3218,"v":-9.8},{"t":3223,"v":-6.1},{"t":3228,"v":0.4},{"t":3233,"v":0.6},{"t":3238,"v":0.6},{"t":3243,"v":2.7},{"t":3248,"v":-0.6},{"t":3251,"v":-3.8},{"t":3256,"v":-4.7},{"t":3261,"v":-4.3},{"t":3266,"v":-4.7},{"t":3271,"v":-5.2},{"t":3275,"v":-6.6},{"t":3280,"v":-4.7},{"t":3285,"v":-1.5},{"t":3289,"v":1.8},{"t":3294,"v":-2.4},{"t":3299,"v":-5.2},{"t":3304,"v":-1.9},{"t":3309,"v":-2.4},{"t":3314,"v":-3.3},{"t":3319,"v":4.5},{"t":3324,"v":0.4},{"t":3329,"v":-3.8},{"t":3334,"v":-2.9},{"t":3339,"v":-0.1},{"t":3344,"v":0.4},{"t":3349,"v":2.2},{"t":3354,"v":-0.6},{"t":3359,"v":-1.9},
{"t":3365,"v":0.8},{"t":3370,"v":4.5},{"t":3373,"v":6.9},{"t":3378,"v":4.1},{"t":3383,"v":3.1},{"t":3388,"v":3.1},{"t":3393,"v":4.5},{"t":3398,"v":5.9},{"t":3403,"v":6.9},{"t":3408,"v":9.6},{"t":3413,"v":10.1},{"t":3418,"v":9.2},{"t":3423,"v":10.6},{"t":3428,"v":11},{"t":3433,"v":8.7},{"t":3438,"v":10.6},{"t":3442,"v":12},{"t":3447,"v":9.6},{"t":3452,"v":10.4},{"t":3457,"v":11},{"t":3462,"v":11.5},{"t":3467,"v":10.6},{"t":3472,"v":9.9},{"t":3477,"v":11.5},{"t":3482,"v":12},{"t":3487,"v":11.8},{"t":3492,"v":9.6},{"t":3497,"v":9.6},{"t":3502,"v":9.2},{"t":3507,"v":8.7},{"t":3512,"v":7.8},{"t":3517,"v":10.6},{"t":3522,"v":8.2},{"t":3527,"v":5.9},{"t":3532,"v":8.7},{"t":3537,"v":9.6},{"t":3542,"v":10.6},{"t":3545,"v":3.6},{"t":3548,"v":1.8},{"t":3553,"v":4.1},{"t":3558,"v":5},{"t":3563,"v":6.9},{"t":3568,"v":6.4},{"t":3573,"v":4.5},{"t":3578,"v":0.8},{"t":3583,"v":1.3},{"t":3588,"v":0.4},{"t":3593,"v":-1.9},{"t":3598,"v":-3.3},{"t":3602,"v":-3.8},{"t":3607,"v":-0.1},{"t":3612,"v":1.3},{"t":3617,"v":1.8},{"t":3622,"v":1.8},{"t":3627,"v":3.1},{"t":3631,"v":5.9},{"t":3635,"v":2.2},{"t":3638,"v":-7},{"t":3641,"v":-9.8},{"t":3645,"v":-7},{"t":3650,"v":-5.6},{"t":3655,"v":-4.7},{"t":3660,"v":-3.8},{"t":3665,"v":-1.9},{"t":3670,"v":0.6},{"t":3675,"v":0.1},{"t":3680,"v":2.2},{"t":3684,"v":4.5},{"t":3688,"v":0.8},{"t":3692,"v":-1.9},{"t":3697,"v":-1},{"t":3702,"v":0.8},{"t":3707,"v":1.8},{"t":3712,"v":2.2},{"t":3717,"v":0.8},{"t":3720,"v":-1},{"t":3725,"v":1.3},{"t":3730,"v":4.1},{"t":3735,"v":5.5},{"t":3740,"v":6.4},{"t":3745,"v":3.6},{"t":3750,"v":-0.6},{"t":3753,"v":-2.4},{"t":3758,"v":-0.1},{"t":3763,"v":5},{"t":3768,"v":5.9},{"t":3773,"v":9.2},{"t":3778,"v":10.4},{"t":3783,"v":10.1},{"t":3788,"v":7.3},{"t":3793,"v":6.9},{"t":3798,"v":6.4},{"t":3803,"v":6.2},{"t":3808,"v":7.8},{"t":3813,"v":9.2},{"t":3818,"v":10.6},{"t":3823,"v":9.6},{"t":3828,"v":8.2},{"t":3833,"v":9.2},{"t":3838,"v":9.6},{"t":3843,"v":9.2},{"t":3848,"v":11.5},{"t":3852,"v":12.4},{"t":3857,"v":11.5},{"t":3862,"v":12.4},{"t":3867,"v":12.9},{"t":3872,"v":13.1},{"t":3877,"v":11.5},{"t":3882,"v":9.6},{"t":3887,"v":10.6},{"t":3892,"v":11.5},{"t":3897,"v":13.3},{"t":3900,"v":12},{"t":3905,"v":5.9},{"t":3908,"v":3.6},{"t":3913,"v":3.6},{"t":3917,"v":6.9},{"t":3920,"v":9.2},{"t":3925,"v":5.5},{"t":3930,"v":2.2},{"t":3935,"v":0.4},{"t":3940,"v":1.8},{"t":3945,"v":2.7},{"t":3950,"v":3.1},{"t":3955,"v":4.1},{"t":3958,"v":4.5},{"t":3962,"v":-0.6},{"t":3966,"v":1.3},{"t":3971,"v":4.1},{"t":3975,"v":0.4},{"t":3980,"v":-2.9},{"t":3985,"v":-2.9},{"t":3990,"v":-2.4},{"t":3995,"v":-1.9},{"t":4000,"v":-0.1},{"t":4005,"v":0.6},{"t":4010,"v":1.1},{"t":4015,"v":1.5},{"t":4018,"v":1.5}
]
},
"encoding":{
"x":{"field":"t","type":"quantitative","scale":{"domain":[0,4029],"nice":false,"zero":false},
 "axis":{"values":[0,396,792,1188,1584,1980,2376,2772,3168,3564,3960],"grid":true,"gridColor":"#000000","gridOpacity":1,"gridWidth":1,"domainColor":"#000000","domainWidth":1,"ticks":false,"labelFlush":false,"labelOverlap":false,
 "labelExpr":"datum.value==0?'11/14':datum.value==792?'10/16':datum.value==1584?'11/18':datum.value==2376?'10/20':datum.value==3168?'11/22':datum.value==3960?'10/24':''",
 "labelFont":"Lato","labelFontSize":17,"labelColor":"#000000","labelPadding":10,
 "title":"Generated on 23/12/24 @ 02:43","titleFont":"Lato","titleFontSize":20,"titleFontWeight":"normal","titleColor":"#000000","titleX":644,"titleY":54,"titleAlign":"center","titleBaseline":"alphabetic","titleAnchor":null}},
"y":{"field":"v","type":"quantitative","scale":{"domain":[-20,50],"nice":false,"zero":false},
 "axis":{"values":[-20,-10,0,10,20,30,40,50],"grid":true,"gridColor":"#000000","gridOpacity":1,"gridWidth":1,"domainColor":"#000000","domainWidth":1,"ticks":false,
 "labelExpr":"datum.value==-20?'-20':datum.value==0?'0':datum.value==20?'20':datum.value==40?'40':''",
 "labelFont":"Lato","labelFontSize":17,"labelColor":"#000000","labelPadding":7,
 "title":"°C","titleFont":"Lato","titleFontSize":17,"titleFontWeight":"normal","titleColor":"#000000","titleAngle":0,"titleX":-65,"titleY":-25,"titleAlign":"left","titleBaseline":"middle"}}
},
"layer":[
{"data":{"name":"high"},"mark":{"type":"line","strokeWidth":1},
 "encoding":{"color":{"datum":"High Temp","type":"nominal","scale":{"domain":["High Temp","Low Temp"],"range":["#b5373d","#3b7fbd"]},
 "legend":{"orient":"none","legendX":539,"legendY":-32,"direction":"horizontal","title":null,"symbolSize":0,"symbolStrokeWidth":0,"symbolOpacity":0,"labelOffset":0,"columnPadding":6,"gridAlign":"none","labelFont":"Lato","labelFontSize":22,"labelFontWeight":"bold","labelLimit":0,"padding":0,
 "encode":{"labels":{"update":{"fill":{"scale":"color","field":"value"},"x":{"value":0}}},"symbols":{"update":{"size":{"value":0},"strokeWidth":{"value":0},"x":{"value":0}}}}}}}},
{"data":{"name":"low"},"mark":{"type":"line","strokeWidth":1},
 "encoding":{"color":{"datum":"Low Temp","type":"nominal"}}}
]
}
